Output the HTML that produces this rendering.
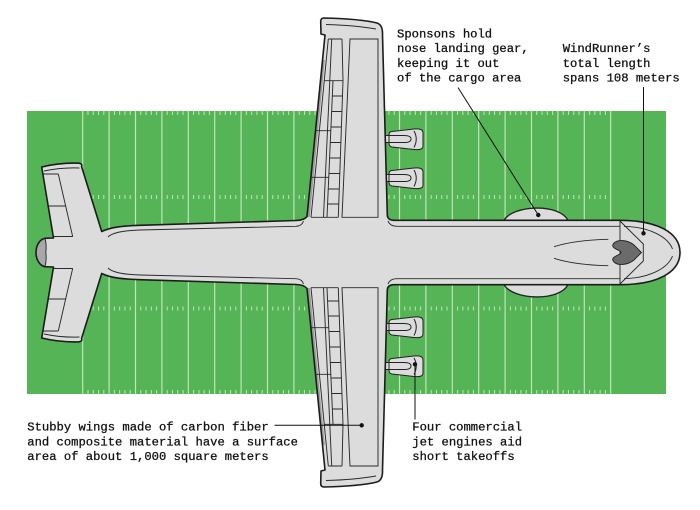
<!DOCTYPE html>
<html>
<head>
<meta charset="utf-8">
<style>
html,body{margin:0;padding:0;background:#fff;overflow:hidden;}
svg{display:block;}
.t{font-family:"Liberation Mono","DejaVu Sans Mono",monospace;font-size:12.2px;fill:#111;stroke:#111;stroke-width:0.28px;}
</style>
</head>
<body>
<svg width="700" height="510" viewBox="0 0 700 510" xmlns="http://www.w3.org/2000/svg">
<rect width="700" height="510" fill="#fff"/>
<!-- field -->
<rect x="27" y="111" width="639" height="283" fill="#55b455"/>
<line x1="82.1" y1="252.5" x2="611.3" y2="252.5" stroke="#bfe5b9" stroke-width="283" stroke-dasharray="1.2 25.2"/>
<g stroke="#bfe5b9" stroke-width="4" stroke-dasharray="1 4.28 1 4.28 1 4.28 1 9.56">
<line x1="87.48" y1="113" x2="610.7" y2="113"/>
<line x1="87.48" y1="197" x2="610.7" y2="197"/>
<line x1="87.48" y1="308.5" x2="610.7" y2="308.5"/>
<line x1="87.48" y1="392" x2="610.7" y2="392"/>
</g>

<!-- engines -->
<g fill="#dcdcdc" stroke="#222" stroke-width="1">
<g transform="translate(0,139)">
<path d="M384 -3.5 H394 V3.5 H384 Z"/>
<path d="M392 -7.5 L414 -10 Q423 -11 423 -6 L423 7 Q423 11.5 414 10.5 L392 8 Q389 7.5 389 4 L389 -4 Q389 -7.5 392 -7.5 Z"/>
<path d="M389 -3.5 L404 -3.5 Q411 -3.5 411 0 Q411 3.5 404 3.5 L389 3.5" fill="none"/>
<path d="M414 -8 Q418.5 0 414 8.5" fill="none"/>
</g>
<g transform="translate(0,178)">
<path d="M384 -3.5 H394 V3.5 H384 Z"/>
<path d="M392 -7.5 L414 -10 Q423 -11 423 -6 L423 7 Q423 11.5 414 10.5 L392 8 Q389 7.5 389 4 L389 -4 Q389 -7.5 392 -7.5 Z"/>
<path d="M389 -3.5 L404 -3.5 Q411 -3.5 411 0 Q411 3.5 404 3.5 L389 3.5" fill="none"/>
<path d="M414 -8 Q418.5 0 414 8.5" fill="none"/>
</g>
<g transform="translate(0,327)">
<path d="M384 -3.5 H394 V3.5 H384 Z"/>
<path d="M392 -7.5 L414 -10 Q423 -11 423 -6 L423 7 Q423 11.5 414 10.5 L392 8 Q389 7.5 389 4 L389 -4 Q389 -7.5 392 -7.5 Z"/>
<path d="M389 -3.5 L404 -3.5 Q411 -3.5 411 0 Q411 3.5 404 3.5 L389 3.5" fill="none"/>
<path d="M414 -8 Q418.5 0 414 8.5" fill="none"/>
</g>
<g transform="translate(0,366)">
<path d="M384 -3.5 H394 V3.5 H384 Z"/>
<path d="M392 -7.5 L414 -10 Q423 -11 423 -6 L423 7 Q423 11.5 414 10.5 L392 8 Q389 7.5 389 4 L389 -4 Q389 -7.5 392 -7.5 Z"/>
<path d="M389 -3.5 L404 -3.5 Q411 -3.5 411 0 Q411 3.5 404 3.5 L389 3.5" fill="none"/>
<path d="M414 -8 Q418.5 0 414 8.5" fill="none"/>
</g>
</g>

<!-- sponsons -->
<g fill="#dcdcdc" stroke="#222" stroke-width="1.3">
<path d="M504 220.3 C513 205 559 203 568 220.3 Z"/>
<path d="M504 284.7 C513 300 559 302 568 284.7 Z"/>
</g>

<!-- plane halves -->
<g id="upper">
<path fill="#dcdcdc" d="M36 252.5 C36 245 40 239.2 45 238.3 L53.5 238 L41.7 167 C55 163.8 68 162.8 79 163.2 Q82.5 163.6 81.6 166.6 L101.7 231.5 C110 227.5 120 226 140 225.3 L296 220.5 Q304 220.3 307 216.5 L325 35 L321 34 L320.7 21.5 Q320.7 18 324 18 C345 18.5 365 20 377 23 Q383 25 382.5 35 L387.3 215 Q387.6 220.3 394 220.3 L620 220.3 C656 220.3 680 232 680 252.5 Z"/>
<path fill="#a8a8a8" d="M45 238.3 C40 239.2 36 245 36 252.5 L45.8 252.5 Q46.8 245 45 238.3 Z"/>
<polygon fill="#9c9c9c" points="322.8,60 324.8,60 309.8,217 307.3,217"/>
<g fill="none" stroke="#2a2a2a" stroke-width="0.95">
<path d="M45 238.3 Q46.8 245 45.8 252.5"/>
<path d="M44 171 C56 168.5 68 167.5 79.5 168"/>
<path d="M58.3 174 L72.7 236.7 M43 174 H58.3 M48.2 206 H65.6 M53.3 236.5 H72.7"/>
<path d="M303.5 221 Q302 226 296 226.3 L140 230 C122 230.5 112 233 108 237"/>
<path d="M388 221 Q390 226.3 397 226.3 L620 226.3"/>
<path d="M620 220.3 V252.5 M620 221 L643.3 244 V252.5"/>
<path d="M624 226.3 C650 227 668 237 672.5 249"/>
<path d="M608.3 239.3 Q575 240 554 246.7"/>
<path d="M350 39 H378 V217.3 H342 Z"/>
<path d="M326 24.5 C345 25 362 26.5 376 29"/>
<path d="M328.3 39 L311 217.3 M331.7 39 L323.5 217.3"/>
<path d="M342 39 L343 80.7 L338.3 217.3 M333 80.7 L327 217.3"/>
<path d="M328.3 39 H342 M324 80.7 H343 M311 217.3 H338.3"/>
<path d="M332.3 96H342.5 M331.6 111.5H341.9 M331 127H341.4 M330.3 142.5H340.9 M329.6 158H340.3 M328.9 173.5H339.8 M328.2 189H339.3 M327.6 204H338.8"/>
<path d="M315.5 130.7 H330.8 M310.9 177.3 H328.8"/>
</g>
<path fill="none" stroke="#1c1c1c" stroke-width="1.6" stroke-linejoin="round" d="M36 252.5 C36 245 40 239.2 45 238.3 L53.5 238 L41.7 167 C55 163.8 68 162.8 79 163.2 Q82.5 163.6 81.6 166.6 L101.7 231.5 C110 227.5 120 226 140 225.3 L296 220.5 Q304 220.3 307 216.5 L325 35 L321 34 L320.7 21.5 Q320.7 18 324 18 C345 18.5 365 20 377 23 Q383 25 382.5 35 L387.3 215 Q387.6 220.3 394 220.3 L620 220.3 C656 220.3 680 232 680 252.5"/>
</g>

<g transform="matrix(1 0 0 -1 0 505)">
<path fill="#dcdcdc" d="M36 252.5 C36 245 40 239.2 45 238.3 L53.5 238 L41.7 167 C55 163.8 68 162.8 79 163.2 Q82.5 163.6 81.6 166.6 L101.7 231.5 C110 227.5 120 226 140 225.3 L296 220.5 Q304 220.3 307 216.5 L325 35 L321 34 L320.7 21.5 Q320.7 18 324 18 C345 18.5 365 20 377 23 Q383 25 382.5 35 L387.3 215 Q387.6 220.3 394 220.3 L620 220.3 C656 220.3 680 232 680 252.5 Z"/>
<path fill="#a8a8a8" d="M45 238.3 C40 239.2 36 245 36 252.5 L45.8 252.5 Q46.8 245 45 238.3 Z"/>
<polygon fill="#9c9c9c" points="322.8,60 324.8,60 309.8,217 307.3,217"/>
<g fill="none" stroke="#2a2a2a" stroke-width="0.95">
<path d="M45 238.3 Q46.8 245 45.8 252.5"/>
<path d="M44 171 C56 168.5 68 167.5 79.5 168"/>
<path d="M58.3 174 L72.7 236.7 M43 174 H58.3 M48.2 206 H65.6 M53.3 236.5 H72.7"/>
<path d="M303.5 221 Q302 226 296 226.3 L140 230 C122 230.5 112 233 108 237"/>
<path d="M388 221 Q390 226.3 397 226.3 L620 226.3"/>
<path d="M620 220.3 V252.5 M620 221 L643.3 244 V252.5"/>
<path d="M624 226.3 C650 227 668 237 672.5 249"/>
<path d="M608.3 239.3 Q575 240 554 246.7"/>
<path d="M350 39 H378 V217.3 H342 Z"/>
<path d="M326 24.5 C345 25 362 26.5 376 29"/>
<path d="M328.3 39 L311 217.3 M331.7 39 L323.5 217.3"/>
<path d="M342 39 L343 80.7 L338.3 217.3 M333 80.7 L327 217.3"/>
<path d="M328.3 39 H342 M324 80.7 H343 M311 217.3 H338.3"/>
<path d="M332.3 96H342.5 M331.6 111.5H341.9 M331 127H341.4 M330.3 142.5H340.9 M329.6 158H340.3 M328.9 173.5H339.8 M328.2 189H339.3 M327.6 204H338.8"/>
<path d="M315.5 130.7 H330.8 M310.9 177.3 H328.8"/>
</g>
<path fill="none" stroke="#1c1c1c" stroke-width="1.6" stroke-linejoin="round" d="M36 252.5 C36 245 40 239.2 45 238.3 L53.5 238 L41.7 167 C55 163.8 68 162.8 79 163.2 Q82.5 163.6 81.6 166.6 L101.7 231.5 C110 227.5 120 226 140 225.3 L296 220.5 Q304 220.3 307 216.5 L325 35 L321 34 L320.7 21.5 Q320.7 18 324 18 C345 18.5 365 20 377 23 Q383 25 382.5 35 L387.3 215 Q387.6 220.3 394 220.3 L620 220.3 C656 220.3 680 232 680 252.5"/>
</g>

<!-- windshield -->
<path fill="#6b6b6b" stroke="#222" stroke-width="0.9" d="M614 243 C618 239 628 240 634 245 L641.5 252.5 L634 260 C628 265 618 266 614 262 C610 258 616 256 620 254 L621 252.5 L620 251 C616 249 610 247 614 243 Z"/>

<!-- leaders -->
<g stroke="#111" stroke-width="1" fill="none">
<path d="M458 87.5 L538.3 215"/>
<path d="M643.5 87 V233.3"/>
<path d="M274.5 425.3 H361.7"/>
<path d="M415 364.3 V419.5"/>
</g>
<g fill="#111">
<circle cx="538.3" cy="215" r="2.2"/>
<circle cx="643.5" cy="233.3" r="2.2"/>
<circle cx="361.7" cy="425.3" r="2.2"/>
<circle cx="415" cy="364.3" r="2.2"/>
</g>

<!-- text -->
<text class="t" x="397" y="37.3">Sponsons hold</text>
<text class="t" x="397" y="52.1">nose landing gear,</text>
<text class="t" x="397" y="66.9">keeping it out</text>
<text class="t" x="397" y="81.7">of the cargo area</text>

<text class="t" x="562.7" y="52.1">WindRunner’s</text>
<text class="t" x="562.7" y="66.9">total length</text>
<text class="t" x="562.7" y="81.7">spans 108 meters</text>

<text class="t" x="27.3" y="430.5">Stubby wings made of carbon fiber</text>
<text class="t" x="27.3" y="445.3">and composite material have a surface</text>
<text class="t" x="27.3" y="460.1">area of about 1,000 square meters</text>

<text class="t" x="412.3" y="430.5">Four commercial</text>
<text class="t" x="412.3" y="445.3">jet engines aid</text>
<text class="t" x="412.3" y="460.1">short takeoffs</text>
</svg>
</body>
</html>
